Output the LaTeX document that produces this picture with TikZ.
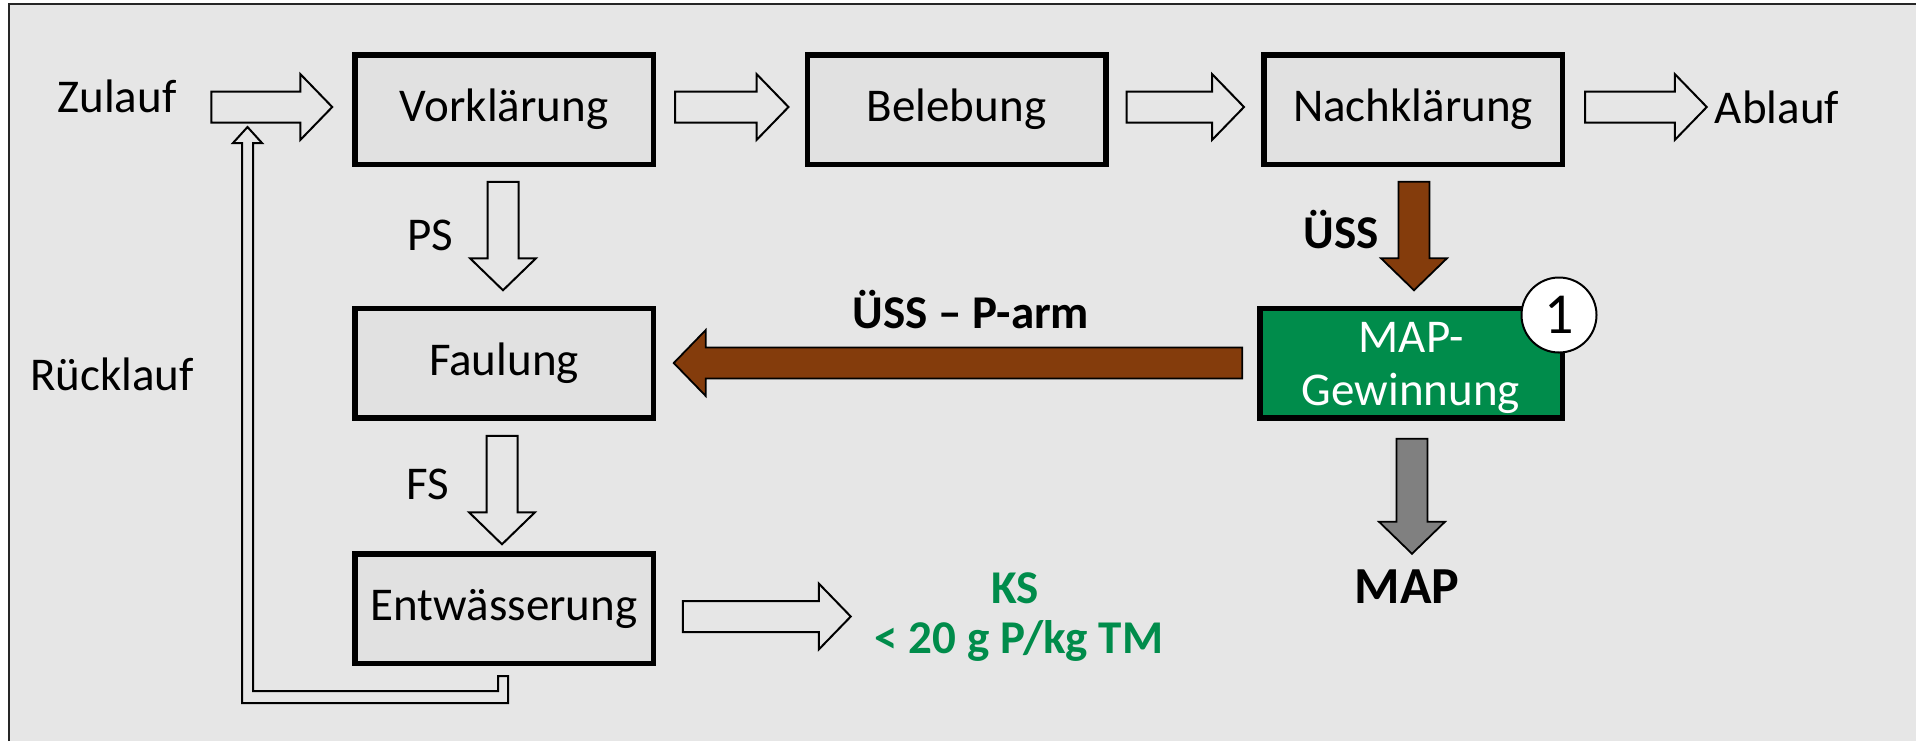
\documentclass[tikz,border=0pt]{standalone}
\usepackage{fontspec}
\setmainfont{Carlito}
\usetikzlibrary{calc}

\definecolor{panel}{HTML}{E6E6E6}
\definecolor{stage}{HTML}{E1E1E1}
\definecolor{sludge}{HTML}{843C0C}
\definecolor{mapgreen}{RGB}{0,140,75}
\definecolor{product}{HTML}{808080}

% block arrow dimensions: half shaft width, half head width, head length
\newcommand{\bashaft}{7.75pt}
\newcommand{\bawing}{16.5pt}
\newcommand{\bahead}{16pt}
% \blockarrow[style]{tail}{tip}
\newcommand{\blockarrow}[3][]{%
  \path (#2) coordinate (ba-s) (#3) coordinate (ba-e);
  \path ($(ba-e)!\bahead!(ba-s)$) coordinate (ba-h);
  \draw[hollow,#1]
    ($(ba-s)!\bashaft!90:(ba-e)$) -- ($(ba-h)!\bashaft!90:(ba-e)$) --
    ($(ba-h)!\bawing!90:(ba-e)$) -- (ba-e) --
    ($(ba-h)!\bawing!-90:(ba-e)$) -- ($(ba-h)!\bashaft!-90:(ba-e)$) --
    ($(ba-s)!\bashaft!-90:(ba-e)$) -- cycle;
}

\tikzset{
  stagebox/.style={draw=black, line width=2.75pt, fill=stage,
    minimum width=149.25pt, minimum height=54.75pt, inner sep=0pt,
    font=\fontsize{23.5}{27}\selectfont},
  txt/.style={inner sep=0pt, font=\fontsize{23.5}{27}\selectfont},
  boldtxt/.style={inner sep=0pt, font=\fontsize{23.5}{27}\selectfont\bfseries},
  hollow/.style={draw=black, line width=1pt, fill=panel, line join=miter},
  sludgearr/.style={fill=sludge, line width=0.9pt},
  productarr/.style={fill=product, line width=0.9pt},
}

\begin{document}
\begin{tikzpicture}[x=0.5pt, y=-0.5pt]
  % page and panel
  \useasboundingbox (0,0) rectangle (1916,741);
  \fill[white] (0,0) rectangle (1916,741);
  \fill[panel] (9,4) rectangle (1916,741);
  \draw[line width=0.9pt, black!85] (9,741) -- (9,4) -- (1916,4);

  % treatment stages
  \node[stagebox] (vor)  at (504,109.5)  {Vorklärung};
  \node[stagebox] (bel)  at (956.5,109.5) {Belebung};
  \node[stagebox] (nach) at (1413,109.5) {Nachklärung};
  \node[stagebox] (faul) at (504,363)    {Faulung};
  \node[stagebox, fill=mapgreen, text=white, align=center, minimum width=151.25pt,
        text height=46.5pt, text depth=4.5pt,
        font=\fontsize{23.5}{26.5}\selectfont] (mapg) at (1411,363) {MAP-\\Gewinnung};
  \node[stagebox] (entw) at (504,608.5)  {Entwässerung};

  % process number
  \node[circle, draw=black, fill=white, line width=1pt, minimum size=37.5pt,
        inner sep=0pt, font=\fontsize{29}{30}\selectfont] (one) at (1559,315) {1};

  % stream labels
  \node[txt, anchor=base] (zulauf) at (117,112) {Zulauf};
  \node[txt, anchor=base] (ablauf) at (1777,123) {Ablauf};
  \node[txt, anchor=base] (ps) at (430,250) {PS};
  \node[txt, anchor=base] (fs) at (428,499) {FS};
  \node[txt, anchor=base] (rl) at (112,390) {Rücklauf};
  \node[boldtxt, anchor=base] (uess) at (1341,248) {ÜSS};
  \node[boldtxt, anchor=base] (uessp) at (971,328) {ÜSS – P-arm};
  \node[inner sep=0pt, font=\fontsize{26}{30}\selectfont\bfseries, anchor=base] (map) at (1407,603) {MAP};
  \node[boldtxt, text=mapgreen, anchor=base] (ks) at (1015,603) {KS};
  \node[boldtxt, text=mapgreen, anchor=base] (kslim) at (1019,653) {< 20 g P/kg TM};

  % main water line
  \blockarrow{$(vor.west)+(-140.75,-2.5)$}{$(vor.west)+(-19.75,-2.5)$}
  \blockarrow{$(vor.east)+(19,-2.5)$}{$(bel.west)+(-16,-2.5)$}
  \blockarrow{$(bel.east)+(18,-2.5)$}{$(nach.west)+(-17,-2.5)$}
  \blockarrow{$(nach.east)+(20,-2.5)$}{$(nach.east)+(141.75,-2.5)$}

  % sludge line
  \blockarrow{$(vor.south)+(-1,14.75)$}{$(faul.north)+(-1,-15.25)$}
  \blockarrow{$(faul.south)+(-2,15.25)$}{$(entw.north)+(-2,-6.75)$}
  \blockarrow[sludgearr]{$(nach.south)+(1,14.75)$}{$(mapg.north)+(3,-15.25)$}
  \blockarrow[sludgearr]{$(mapg.west)+(-14.75,0)$}{$(faul.east)+(17.75,0)$}
  \blockarrow[productarr]{$(mapg.south)+(1,18.25)$}{$(mapg.south)+(1,133.25)$}
  \blockarrow{$(entw.east)+(26.75,8)$}{$(entw.east)+(194.75,8)$}

  % return flow from dewatering back to the inlet
  \draw[hollow] (498,676) -- (508,676) -- (508,703) -- (242,703) -- (242,143)
    -- (233,143) -- (247.5,127) -- (262,143) -- (253,143) -- (253,691)
    -- (498,691) -- cycle;
\end{tikzpicture}
\end{document}
